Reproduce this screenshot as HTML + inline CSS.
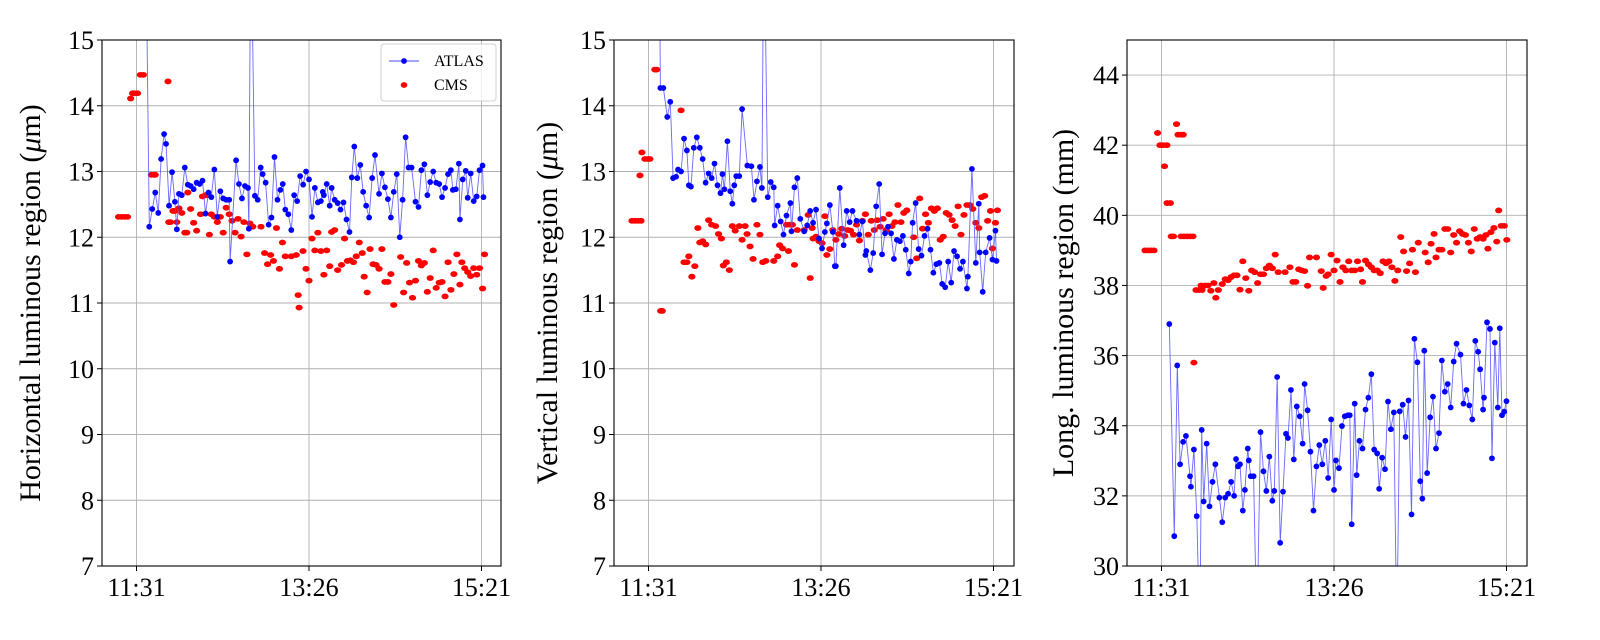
<!DOCTYPE html>
<html><head><meta charset="utf-8"><style>
body{margin:0;background:#fff;}
svg{display:block;font-family:"Liberation Serif",serif;}
</style></head><body>
<svg id="chart" width="1600" height="640" viewBox="0 0 1600 640"></svg>
<script>
// x values are minutes after 11:31
const xTickLabels = ["11:31","13:26","15:21"];
const xTickMinutes = [0,115,230];

const p1Ticks = [7,8,9,10,11,12,13,14,15];
const p3Ticks = [30,32,34,36,38,40,42,44];

const atlasT1 = [6,8.5,10.5,12.5,14.5,16.4,18.4,19.7,21.7,23.7,25.6,26.9,28.3,30.2,32.2,34.2,36.1,38.1,40.1,42.1,44,46,48,49.9,51.9,53.9,55.9,57.8,59.8,61.8,62.4,66.4,68.3,70.3,72.3,74.3,74.9,76.2,78.9,80.8,82.8,84.1,86.1,88.1,90,92,94,95.9,97.5,99.2,101.2,103.2,105.1,107.1,109.1,111.1,113,115,117,118.9,120.9,122.9,124.2,124.9,126.8,128.8,130.1,132.1,134.1,136,138,140,142,143.5,145.2,147.2,149.2,151.1,153.1,155.1,157.1,159,161.7,163.6,165.6,167.6,169.6,171.5,173.5,175.5,177.4,179.4,181.4,183.4,186,188,189.9,191.9,193.9,195.8,197.8,199.8,201.8,203.7,205.7,207.7,209.6,210.9,212.9,214.9,215.6,217.5,219.5,220.8,222.8,224.8,226.8,228.7,230.7,231.3];
const atlasV1 = [17,12.16,12.43,12.68,12.37,13.19,13.57,13.42,12.48,12.99,12.54,12.12,12.66,12.64,13.06,12.8,12.78,12.73,12.83,12.81,12.86,12.36,12.68,12.61,13.03,12.31,12.7,12.59,12.57,12.57,11.63,13.17,12.81,12.59,12.78,12.75,12.13,17,12.63,12.57,13.06,12.96,12.83,12.19,12.3,13.22,12.57,12.72,12.81,12.42,12.35,12.11,12.64,12.55,12.93,12.8,13.0,12.88,12.31,12.75,12.53,12.55,12.69,12.64,12.81,12.48,12.75,12.57,12.52,12.42,12.53,12.27,12.08,12.91,13.38,12.9,13.1,12.69,12.48,12.3,12.9,13.25,12.66,12.97,12.76,12.58,12.3,12.69,12.96,12.0,12.57,13.52,13.06,13.06,12.54,12.46,13.02,13.11,12.64,12.84,13.0,12.83,12.81,12.61,12.75,12.96,13.02,12.72,12.73,13.12,12.27,12.88,13.01,12.6,12.97,12.55,12.62,13.02,13.09,12.61];
const cmsT1 = [-12,-10,-8,-6,-3.9,-2.6,-1.3,0.7,2.6,4.6,9.9,11.8,12.5,21,21.5,22.6,24.3,25.6,26.9,28.3,30.2,32.2,33.5,34.2,36.1,38.1,40.1,42.7,44,46,47.3,48.6,49.9,51.9,53.9,55.9,57.8,59.8,61.8,63.7,65.7,67.7,69.7,71.6,73.6,75.6,77.5,83,85.4,87.4,89.4,91.3,93.3,95.3,97.3,99.2,103.2,106.5,107.8,108.4,111,113,115,117,118.9,120.9,122.9,124.9,126.8,128.8,130.1,132.1,134.1,136.7,138.7,140.6,142.6,144.6,146.5,148.5,150.5,151.8,153.8,155.7,157.7,159.7,161.7,163.6,165.6,167.6,169.6,171.5,176.1,178.1,180.1,182,184,186,188,189.9,191.9,193.9,195.8,197.8,199.8,201.8,203.7,205.7,207.7,209.6,211.6,213.6,215.6,216.9,218.8,220.8,222.8,224.8,226.8,228.7,230.7,232];
const cmsV1 = [12.31,12.31,12.31,12.31,14.11,14.19,14.19,14.19,14.47,14.47,12.95,12.95,12.95,14.37,12.23,12.23,12.4,12.4,12.23,12.44,12.37,12.07,12.07,12.68,12.43,12.22,12.1,12.35,12.62,12.64,12.64,12.04,12.35,12.31,12.23,12.31,12.07,12.45,12.35,12.25,12.07,12.28,12.01,12.23,11.74,12.21,12.16,12.16,11.76,11.59,11.73,11.64,12.14,11.52,11.92,11.71,11.71,11.73,11.12,10.93,11.79,11.52,11.34,11.98,11.8,12.07,11.79,11.43,11.8,11.56,12.08,12.11,11.5,11.58,11.98,11.64,11.65,11.62,11.71,11.92,11.76,11.4,11.16,11.82,11.59,11.58,11.52,11.82,11.32,11.32,11.44,10.97,11.7,11.16,11.61,11.31,11.08,11.34,11.64,11.57,11.61,11.17,11.38,11.8,11.23,11.31,11.32,11.1,11.62,11.2,11.44,11.74,11.28,11.62,11.53,11.47,11.41,11.53,11.43,11.53,11.22,11.74];

const atlasT2 = [7,7.9,9.9,12.5,14.5,16.4,18.4,19.7,21.7,23.7,25.6,26.9,28.3,30.2,32.2,34.2,36.1,38.1,40.1,42.1,44,46,48,49.3,50.6,52.6,54.5,55.9,57.2,58.5,60.5,62.4,65.9,68.6,70.3,72.3,74.3,75.6,76.9,79.5,81.5,83.5,84.1,86.1,88.1,90,92,94.6,95.3,97.3,99.2,101.2,103.8,105.8,107.8,109.7,111.7,113.7,115.7,117.6,118.9,120.9,122.9,124.2,124.9,127.5,130.1,132.1,134.1,136,138.7,140.6,142.6,144.6,145.2,147.9,149.8,151.8,153.8,155.7,157.7,159.7,161.7,163.6,165.6,167.6,169.6,171.5,173.5,174.8,176.1,178.1,180.1,182,184,186,188,189.9,191.9,193.9,195.8,197.8,199.8,201.8,203.7,205.7,207.7,209.6,212.3,212.9,215.6,218.2,220.2,220.8,222.8,224.8,227.4,229.3,231.3,232];
const atlasV2 = [17,14.27,14.27,13.83,14.06,12.9,12.92,13.03,13.0,13.5,13.32,12.79,12.77,13.36,13.52,13.36,13.19,12.83,12.97,12.9,13.12,12.79,12.67,12.96,12.73,13.46,12.7,12.51,12.79,12.93,12.93,13.95,13.09,13.08,12.57,12.85,13.07,12.75,17,12.61,12.84,12.76,12.18,12.48,12.24,12.04,12.33,12.52,12.09,12.76,12.9,12.28,12.09,12.18,12.4,12.22,12.42,11.98,11.83,12.08,12.21,12.49,12.08,11.56,11.56,12.75,11.88,12.4,12.23,12.4,12.25,12.04,12.24,11.73,11.79,11.5,11.76,12.47,12.81,11.74,12.06,12.16,12.06,11.67,11.96,11.94,12.02,11.81,11.45,11.63,12.22,12.52,11.82,11.72,12.02,12.13,11.81,11.46,11.59,11.61,11.29,11.24,11.63,11.31,11.79,11.71,11.52,11.63,11.22,11.4,13.04,11.61,12.51,11.77,11.17,11.77,11.99,11.66,12.1,11.64];
const cmsT2 = [-11,-9,-7,-5,-5.7,-4.4,-2.4,-0.4,0.9,4.2,5.5,8.1,9.2,21.7,23.7,25.6,26.9,28.9,30.9,32.9,34.2,36.1,38.1,40.1,42.1,44.7,46.7,48.6,49.9,51.9,53.9,55.9,57.8,60.5,62.4,64.4,65.7,67.7,69.7,72.3,74.3,76.2,78.2,83.5,86.1,87.4,89.4,92,94,95.9,93.3,97.3,99.2,103.8,106.5,107.8,109.1,109.7,111.7,113.7,115.7,117.6,118.9,120.9,122.9,124.9,126.8,128.8,130.8,132.8,134.7,136.7,138.7,140.6,142.6,144.6,146.5,148.5,150.5,152.5,154.4,156.4,158.4,160.4,162.3,164.3,166.3,168.3,170.2,172.2,176.8,178.8,180.8,182.7,184.7,186.6,188.6,190.6,192.6,194.5,196.5,198.5,200.4,202.4,204.4,206.4,208.3,210.3,212.3,214.2,216.2,218.2,220.2,222.1,224.1,226.1,228,229.3,231.3,232.6];
const cmsV2 = [12.25,12.25,12.25,12.25,12.94,13.29,13.19,13.19,13.19,14.55,14.55,10.88,10.88,13.93,11.62,11.62,11.71,11.4,11.56,12.14,11.92,11.94,11.89,12.26,12.19,12.17,12.05,11.98,11.57,11.62,11.5,12.17,12.1,12.17,11.96,12.17,12.05,11.86,11.67,12.19,12.04,11.62,11.64,11.64,11.71,11.88,11.83,12.19,12.19,12.19,11.79,11.58,12.11,12.11,12.34,11.38,12.14,11.98,12.01,11.94,11.91,12.32,11.73,11.82,12.11,11.96,12.05,12.13,12.02,12.11,12.1,12.04,12.19,11.95,12.25,12.35,12.04,12.25,12.11,12.26,12.16,12.28,12.11,12.35,12.17,12.23,12.49,12.23,12.37,12.41,12.0,11.68,12.59,12.13,12.35,12.22,12.44,12.4,12.44,11.96,12.01,12.37,12.34,12.26,12.17,12.47,12.04,12.34,12.49,12.49,12.43,12.22,12.14,12.61,12.63,12.25,12.4,11.83,12.22,12.41];

const atlasT3 = [5.2,8.5,10.5,12.4,14.4,16.3,19,19.6,21.6,23.5,25.5,26.8,28.1,30.1,32,34,35.9,38.6,40.5,42.5,44.4,46.4,48.4,49.7,51,52.3,54.2,55.6,57.5,58.2,59.5,61.4,63.6,66,68,69.9,71.9,73.9,75.2,77.1,79.1,81,83,84.3,86.3,88.2,90.2,92.2,94.1,95.4,97.4,99.3,101.3,103.3,105.2,107.2,109.2,111.1,113.1,115,116.3,118.3,120.3,122.2,124.2,125.5,126.8,128.8,130.1,132,134,136,137.9,139.9,141.8,143.8,145.1,147.1,149,151,152.9,154.9,156.9,158.8,160.8,162.7,164.7,166.7,168.6,170.6,172.5,173.9,175.2,177.1,179.1,181,183,185,186.9,188.9,190.8,192.8,194.8,196.7,199.3,201.3,203.3,205.2,207.2,209.2,211.1,212.4,214.4,215,217,219,220.3,222.2,224.2,225.5,227,228.5,230];
const atlasV3 = [36.9,30.85,35.72,32.9,33.54,33.71,32.56,32.26,33.32,31.42,28,33.88,31.84,33.49,31.7,32.4,32.9,31.95,31.25,31.95,32.06,32.4,32.0,33.05,32.84,32.9,31.58,32.17,33.35,33.01,32.56,32.56,28,33.82,32.7,32.14,33.12,31.86,32.14,35.39,30.66,32.12,33.77,33.65,35.02,33.04,34.55,34.27,33.49,35.19,34.44,33.26,31.58,32.84,33.45,32.9,33.57,32.51,34.18,32.17,33.01,32.79,33.99,34.27,34.3,34.3,31.19,34.63,32.59,33.57,33.35,34.46,34.8,35.47,33.32,33.21,32.2,33.09,32.76,34.69,33.9,34.38,28,34.41,34.6,33.68,34.72,31.47,36.48,35.81,32.42,31.92,36.14,32.65,34.24,34.83,33.35,33.79,35.86,34.97,35.19,34.52,35.83,36.34,36.03,34.63,35.02,34.58,34.18,36.42,36.11,35.61,34.46,34.8,36.95,36.76,33.07,36.37,34.52,36.78,34.3,34.4,34.7];
const cmsT3 = [-11,-9,-7,-5,-2.6,-1,1,3.6,2,3.7,5.9,6.5,8,10,11,13,14.5,13,15,17,19,21,21.6,23,25,27,26.4,29,31,32.9,34.9,36.2,37.9,40.5,42.5,44.4,46.4,48.4,50.3,52.3,54.2,56.2,58.2,60.1,62.1,64.1,66,68,69.9,71.9,73.9,75.8,77.8,82.4,85.6,87.6,89.5,91.5,93.5,95.4,97.4,98.7,103.3,106.5,107.8,109.8,111.1,113.1,115,117,119,120.9,122.9,124.8,126.8,128.8,130.7,132.7,134,136,138,139.9,141.8,143.8,145.8,147.7,149.7,151.6,153.6,155.6,157.5,159.5,161.4,163.4,165.4,167.3,169.3,171.2,175.8,177.8,179.7,181.7,183,185,186.9,188.9,190.8,192.8,194.8,196.7,198.7,200.7,202.6,204.6,206.5,208.5,210.5,212.4,214.4,216.3,217.6,219.6,221.6,223.5,224.8,226.5,228.5,230.2];
const cmsV3 = [39.0,39.0,39.0,39.0,42.35,42.0,42.0,42.0,41.4,40.35,40.35,39.4,39.4,42.6,42.3,42.3,42.3,39.4,39.4,39.4,39.4,39.4,35.8,37.87,37.87,37.87,38.0,38.0,38.0,37.85,38.07,37.65,37.87,38.04,38.18,38.15,38.24,38.29,38.29,37.88,38.69,38.21,37.85,38.43,38.38,38.07,38.32,38.32,38.49,38.57,38.49,38.88,38.38,38.38,38.52,38.1,38.1,38.46,38.43,38.41,37.99,38.8,38.8,38.41,37.93,38.27,38.32,38.88,38.43,38.71,38.1,38.52,38.43,38.69,38.43,38.43,38.69,38.46,38.1,38.71,38.6,38.52,38.43,38.43,38.35,38.69,38.63,38.69,38.52,38.13,38.43,39.38,38.97,38.41,38.63,39.02,38.38,39.22,38.94,38.66,39.19,39.47,38.8,39.02,39.02,39.61,39.61,38.94,39.44,39.22,39.55,39.47,39.44,39.22,38.97,39.61,39.33,39.38,39.33,39.44,39.05,39.52,39.64,39.25,40.14,39.7,39.7,39.3];

const NS='http://www.w3.org/2000/svg';
const svg=document.getElementById('chart');
function mk(tag,attrs,parent){const e=document.createElementNS(NS,tag);for(const k in attrs)e.setAttribute(k,attrs[k]);(parent||svg).appendChild(e);return e;}

const panels=[
 {id:'horizontal',x0:102,x1:501,ymin:7,ymax:15,ticks:p1Ticks,pre:'Horizontal luminous region (',unit:'m',mu:true,titleX:40,aT:atlasT1,aV:atlasV1,cT:cmsT1,cV:cmsV1,legend:true},
 {id:'vertical',x0:614,x1:1014,ymin:7,ymax:15,ticks:p1Ticks,pre:'Vertical luminous region (',unit:'m',mu:true,titleX:557,aT:atlasT2,aV:atlasV2,cT:cmsT2,cV:cmsV2,legend:false},
 {id:'longitudinal',x0:1127,x1:1527,ymin:30,ymax:45,ticks:p3Ticks,pre:'Long. luminous region (mm',unit:'',mu:false,titleX:1073,aT:atlasT3,aV:atlasV3,cT:cmsT3,cV:cmsV3,legend:false}
];
const Y0=40,Y1=566;
panels.forEach((p,pi)=>{
  const g=mk('g',{});
  
  
  const gx0=p.x0+34.5;
  const sx=t=>gx0+t*1.5;
  const sy=v=>Y1-(v-p.ymin)/(p.ymax-p.ymin)*(Y1-Y0);
  p.ticks.forEach(v=>{
    const l=mk('line',{x1:p.x0,x2:p.x1,y1:sy(v),y2:sy(v),stroke:'#b0b0b0','stroke-width':0.9},g);
    
    
    mk('line',{x1:p.x0-5,x2:p.x0,y1:sy(v),y2:sy(v),stroke:'#000','stroke-width':1},g);
    const tx=mk('text',{x:p.x0-8,y:sy(v)+9,'text-anchor':'end','font-size':26},g);
    tx.textContent=v;
    
    
  });
  xTickMinutes.forEach((m,i)=>{
    const l=mk('line',{x1:sx(m),x2:sx(m),y1:Y0,y2:Y1,stroke:'#b0b0b0','stroke-width':0.9},g);
    
    
    mk('line',{x1:sx(m),x2:sx(m),y1:Y1,y2:Y1+5,stroke:'#000','stroke-width':1},g);
    const tx=mk('text',{x:sx(m),y:Y1+30,'text-anchor':'middle','font-size':26},g);
    tx.textContent=xTickLabels[i];
    
    
  });
  const cp=mk('clipPath',{id:'clip'+pi},g);
  mk('rect',{x:p.x0,y:Y0,width:p.x1-p.x0,height:Y1-Y0},cp);
  const dg=mk('g',{'clip-path':'url(#clip'+pi+')'},g);
  p.cT.forEach((t,i)=>{
    const c=mk('ellipse',{cx:sx(t),cy:sy(p.cV[i]),rx:3.6,ry:2.9,fill:'#ff0000'},dg);
    
    
  });
  const pts=p.aT.map((t,i)=>sx(t).toFixed(1)+','+sy(p.aV[i]).toFixed(1)).join(' ');
  const pl=mk('polyline',{points:pts,fill:'none',stroke:'#4d4dff','stroke-width':0.9,'stroke-opacity':0.85},dg);
  
  
  p.aT.forEach((t,i)=>{
    const c=mk('circle',{cx:sx(t),cy:sy(p.aV[i]),r:2.9,fill:'#0000ff'},dg);
    
    
  });
  const fr=mk('rect',{x:p.x0,y:Y0,width:p.x1-p.x0,height:Y1-Y0,fill:'none',stroke:'#000','stroke-width':1.1},g);
  
  
  const cy=(Y0+Y1)/2;
  const tt=mk('text',{x:p.titleX,y:cy,'text-anchor':'middle','font-size':30,transform:'rotate(-90 '+p.titleX+' '+cy+')'},g);
  
  
  tt.appendChild(document.createTextNode(p.pre));
  if(p.mu){const ts=mk('tspan',{'font-style':'italic'},tt);ts.textContent='\u03bc';tt.appendChild(document.createTextNode('m)'));}
  else tt.appendChild(document.createTextNode(')'));
  if(p.legend){
    const lg=mk('g',{},g);
    
    
    mk('rect',{x:381,y:44,width:115,height:57,rx:3,fill:'#fff','fill-opacity':0.8,stroke:'#d0d0d0'},lg);
    mk('line',{x1:389,x2:419,y1:61,y2:61,stroke:'#4d4dff','stroke-width':0.9},lg);
    mk('circle',{cx:404,cy:61,r:2.9,fill:'#0000ff'},lg);
    const t1=mk('text',{x:434,y:66,'font-size':16},lg);t1.textContent='ATLAS';
    
    
    mk('ellipse',{cx:404,cy:85,rx:3.3,ry:2.9,fill:'#ff0000'},lg);
    const t2=mk('text',{x:434,y:90,'font-size':16},lg);t2.textContent='CMS';
    
    
  }
});
</script>
</body></html>
